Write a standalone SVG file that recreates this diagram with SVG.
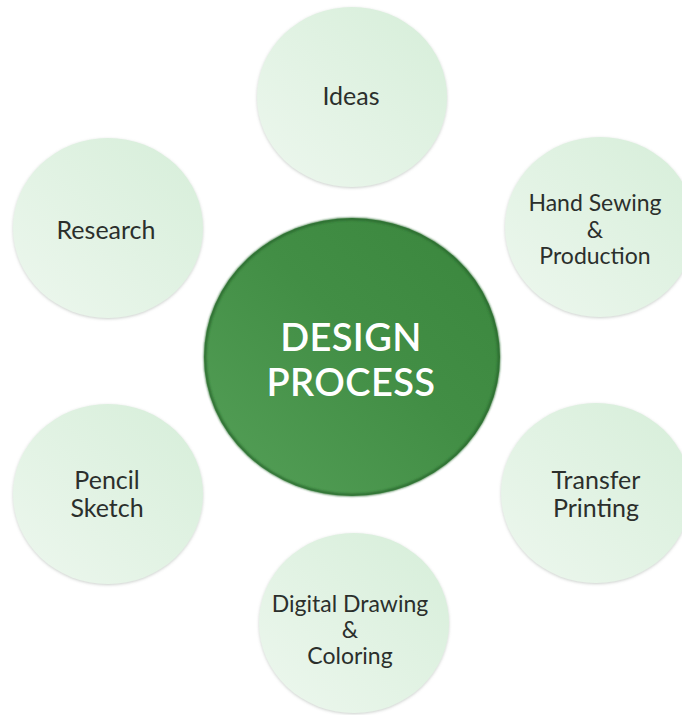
<svg xmlns="http://www.w3.org/2000/svg" width="682" height="715" viewBox="0 0 682 715">
  <defs>
    <linearGradient id="mint" x1="0" y1="1" x2="1" y2="0">
      <stop offset="0" stop-color="#edf7ee"/>
      <stop offset="1" stop-color="#d6eed9"/>
    </linearGradient>
    <linearGradient id="leaf" x1="0" y1="1" x2="1" y2="0">
      <stop offset="0" stop-color="#55a058"/>
      <stop offset="0.55" stop-color="#428e45"/>
      <stop offset="1" stop-color="#3a863d"/>
    </linearGradient>
    <filter id="soft" x="-10%" y="-10%" width="120%" height="120%">
      <feDropShadow dx="0" dy="1" stdDeviation="1.5" flood-color="#8a948b" flood-opacity="0.45"/>
    </filter>
    <filter id="rim" x="-10%" y="-10%" width="120%" height="120%">
      <feGaussianBlur stdDeviation="1.2"/>
    </filter>
  </defs>
  <style>
    .bubble { fill: url(#mint); filter: url(#soft); }
    .label { font-family: Lato, "Open Sans", "Liberation Sans", sans-serif; font-size: 25px; fill: #2b2f2c; text-anchor: middle; }
    .label.small { font-size: 23px; }
    .title { font-family: Lato, "Open Sans", "Liberation Sans", sans-serif; font-size: 38px; font-weight: 600; letter-spacing: 0.4px; fill: #ffffff; text-anchor: middle; }
  </style>
  <rect width="682" height="715" fill="#ffffff"/>

  <g id="connectors"></g>

  <g id="ideas">
    <ellipse class="bubble" cx="352" cy="97" rx="95" ry="90"/>
    <text class="label" x="351" y="105">Ideas</text>
  </g>

  <g id="research">
    <ellipse class="bubble" cx="108" cy="228" rx="95" ry="90"/>
    <text class="label" x="106" y="239">Research</text>
  </g>

  <g id="hand-sewing">
    <ellipse class="bubble" cx="600" cy="227" rx="95" ry="90"/>
    <text class="label small" x="595" y="211">Hand Sewing</text>
    <text class="label small" x="595" y="238">&amp;</text>
    <text class="label small" x="595" y="264">Production</text>
  </g>

  <g id="pencil-sketch">
    <ellipse class="bubble" cx="108" cy="494" rx="95" ry="90"/>
    <text class="label" x="107" y="489">Pencil</text>
    <text class="label" x="107" y="517">Sketch</text>
  </g>

  <g id="transfer-printing">
    <ellipse class="bubble" cx="596" cy="493" rx="95" ry="90"/>
    <text class="label" x="596" y="489">Transfer</text>
    <text class="label" x="596" y="517">Printing</text>
  </g>

  <g id="digital-drawing">
    <ellipse class="bubble" cx="354" cy="623" rx="95" ry="90"/>
    <text class="label small" x="350" y="612">Digital Drawing</text>
    <text class="label small" x="350" y="638">&amp;</text>
    <text class="label small" x="350" y="664">Coloring</text>
  </g>

  <g id="design-process">
    <ellipse cx="352" cy="357" rx="148" ry="139" fill="url(#leaf)"/>
    <ellipse cx="352" cy="357" rx="147" ry="138" fill="none" stroke="#2c6a2f" stroke-width="2.5" filter="url(#rim)"/>
    <text class="title" x="351" y="351">DESIGN</text>
    <text class="title" x="351" y="396">PROCESS</text>
  </g>
</svg>
